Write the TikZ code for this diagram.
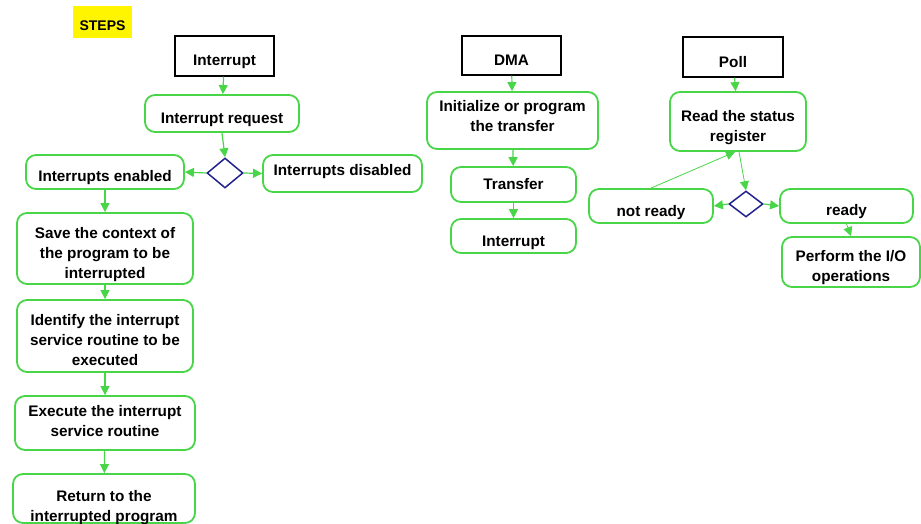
\documentclass[tikz,border=0pt]{standalone}
\usepackage{fontspec}
\setmainfont{Liberation Sans}
\usetikzlibrary{shapes.geometric,arrows.meta,calc}
\definecolor{flowgreen}{RGB}{72,214,72}
\definecolor{decnavy}{RGB}{34,34,140}
\definecolor{tagyellow}{RGB}{255,245,0}
\tikzset{
  stepbox/.style={draw=flowgreen, line width=1.8pt, rounded corners=10pt, fill=white,
    font=\bfseries\fontsize{15.3}{20}\selectfont, align=center, inner sep=1pt},
  headbox/.style={draw=black, line width=1.3pt, fill=white,
    font=\bfseries\fontsize{15.3}{20}\selectfont, inner sep=1pt},
  decision/.style={diamond, draw=decnavy, line width=1.5pt, fill=white, inner sep=0pt},
  % vertical placement of the (last) text line inside a box
  tb/.style={text height=#1, text depth=0pt},
  flow/.style={draw=flowgreen, line width=1.2pt, -{Triangle[length=9pt,width=9pt]}},
  thinflow/.style={draw=flowgreen, line width=0.8pt, -{Triangle[length=9pt,width=9pt]}},
}
\begin{document}
\begin{tikzpicture}[x=1pt,y=-1pt]
\useasboundingbox (0,0) rectangle (921,524);

% title tag
\node[fill=tagyellow, minimum width=59pt, minimum height=32pt, inner sep=0pt,
  tb=18pt, font=\bfseries\fontsize{14}{16}\selectfont] (tag) at (102.5,22) {STEPS};

% ---- interrupt column ----
\node[headbox, tb=19.8pt, minimum width=99pt, minimum height=40pt] (ihead) at (224.5,56) {Interrupt};
\node[stepbox, tb=19.8pt, minimum width=154pt, minimum height=37pt] (ireq) at (222,113.5) {Interrupt request};
\node[decision, minimum width=36pt, minimum height=30pt] (idec) at (225,173) {};
\node[stepbox, tb=18.8pt, minimum width=158pt, minimum height=34pt] (ien) at (105,172) {Interrupts enabled};
\node[stepbox, tb=3.8pt, minimum width=159pt, minimum height=37pt] (idis) at (342.5,173.5) {Interrupts disabled};
\node[stepbox, tb=59.8pt, minimum width=176pt, minimum height=71pt] (isave) at (105,248.5)
  {Save the context of\\the program to be\\interrupted};
\node[stepbox, tb=58.8pt, minimum width=176pt, minimum height=72pt] (iid) at (105,336)
  {Identify the interrupt\\service routine to be\\executed};
\node[stepbox, tb=26.8pt, minimum width=180pt, minimum height=54pt] (iexe) at (105,423)
  {Execute the interrupt\\service routine};
\node[stepbox, tb=45.8pt, minimum width=182pt, minimum height=49pt] (iret) at (104,498.5)
  {Return to the\\interrupted program};

\draw[flow] (ihead) -- (ireq);
\draw[flow] (ireq.south) -- (idec.north);
\draw[flow] (idec.west) -- (ien.east);
\draw[flow] (idec.east) -- (idis.west);
\draw[flow] (ien) -- (isave);
\draw[flow] (isave) -- (iid);
\draw[flow] (iid) -- (iexe);
\draw[flow] (iexe) -- (iret);

% ---- DMA column ----
\node[headbox, tb=20.8pt, minimum width=99pt, minimum height=39pt] (dhead) at (511.5,55.5) {DMA};
\node[stepbox, tb=22.8pt, minimum width=171pt, minimum height=57pt] (dinit) at (512.5,120.5)
  {Initialize or program\\the transfer};
\node[stepbox, tb=9.8pt, minimum width=125pt, minimum height=35pt] (dxfer) at (513.5,184.5) {Transfer};
\node[stepbox, tb=20.8pt, minimum width=125pt, minimum height=34pt] (dint) at (513.5,236) {Interrupt};

\draw[flow] (dhead) -- (dinit);
\draw[flow] (dinit) -- (dxfer);
\draw[flow] (dxfer) -- (dint);

% ---- polling column ----
\node[headbox, tb=21.8pt, minimum width=100pt, minimum height=40pt] (phead) at (733,57) {Poll};
\node[stepbox, tb=40.4pt, minimum width=136pt, minimum height=59pt] (pread) at (738,121.5)
  {Read the status\\register};
\node[decision, minimum width=34pt, minimum height=26pt] (pdec) at (746,204) {};
\node[stepbox, tb=20pt, minimum width=124pt, minimum height=34pt] (pnot) at (651,206) {not ready};
\node[stepbox, tb=18pt, minimum width=133pt, minimum height=34pt] (prdy) at (846.5,206) {ready};
\node[stepbox, tb=39pt, minimum width=138pt, minimum height=50pt] (pio) at (851,262)
  {Perform the I/O\\operations};

\draw[flow] (phead) -- (pread);
\draw[thinflow] ($(pread.south)+(1,0)$) -- (pdec.north);
\draw[flow] (pdec.west) -- (pnot.east);
\draw[flow] (pdec.east) -- (prdy.west);
\draw[thinflow] (pnot.north) -- ($(pread.south)+(-3,0)$);
\draw[thinflow] (prdy.south) -- (pio.north);
\end{tikzpicture}
\end{document}
